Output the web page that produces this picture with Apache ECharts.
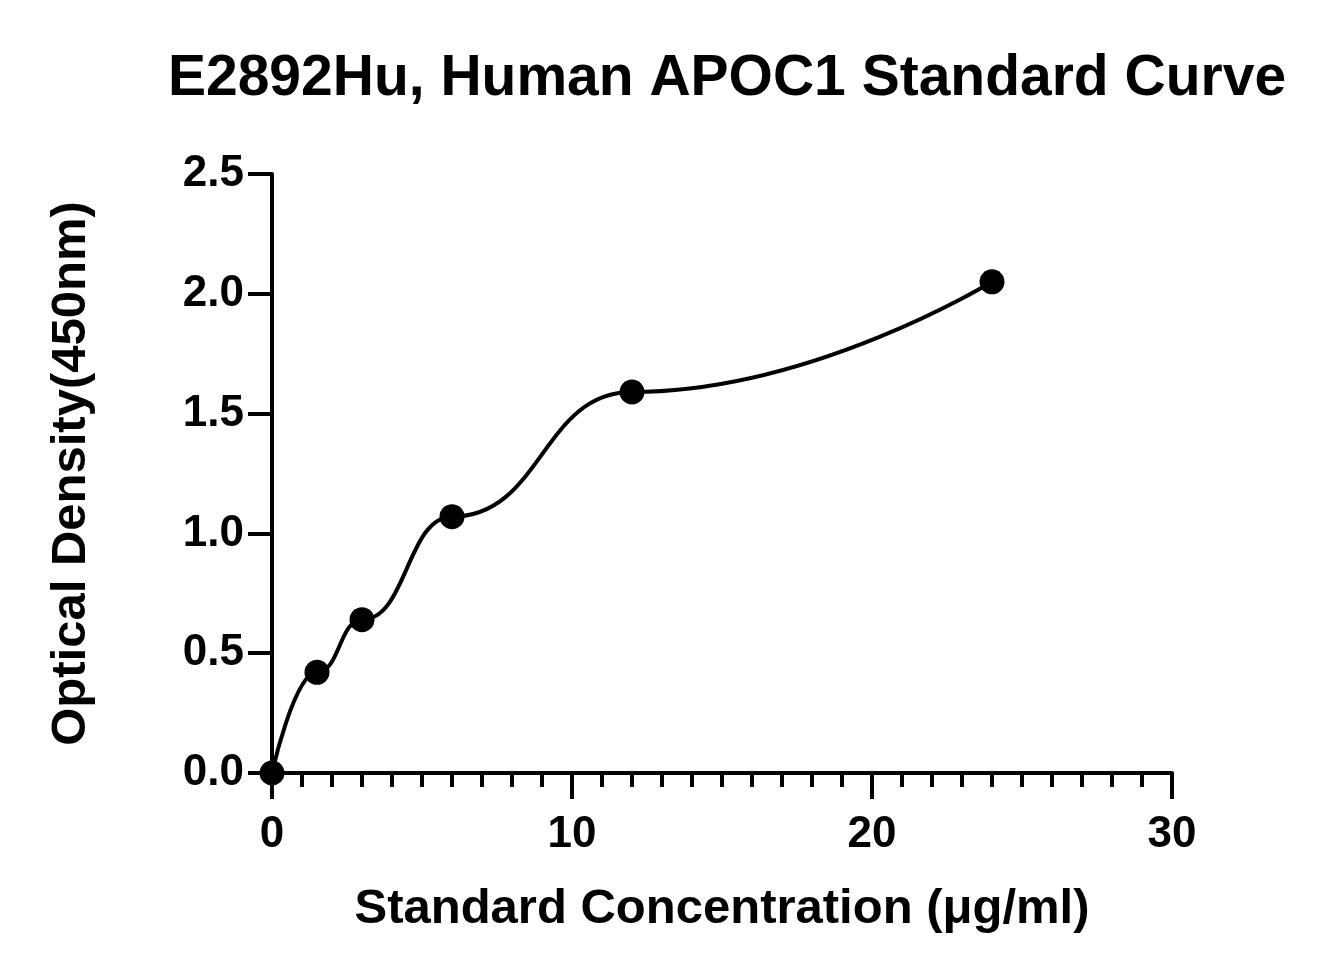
<!DOCTYPE html>
<html>
<head>
<meta charset="utf-8">
<script src="https://cdn.jsdelivr.net/npm/echarts@6/dist/echarts.min.js"></script>
<style>html,body{margin:0;padding:0;background:#fff}#chart{width:1332px;height:975px}</style>
</head>
<body>
<div id="chart"></div>
<script>
// standard points
const concentrations = [0, 1.5, 3, 6, 12, 24];
const densities = [0, 0.42, 0.64, 1.07, 1.59, 2.05];

const font = '"Liberation Sans", Arial, sans-serif';
const points = concentrations.map((c, i) => [c, densities[i]]);

const chart = echarts.init(document.getElementById('chart'));
chart.setOption({
  animation: false,
  title: {
    text: 'E2892Hu, Human APOC1 Standard Curve',
    left: 722,
    top: 46,
    textAlign: 'center',
    textStyle: { fontFamily: font, fontWeight: 'bold', fontSize: 57, color: '#000' },
  },
  grid: { left: 272, top: 174, right: 160, bottom: 202 },
  xAxis: {
    type: 'value',
    min: 0,
    max: 30,
    interval: 10,
    name: 'Standard Concentration (μg/ml)',
    nameLocation: 'middle',
    nameGap: 112,
    nameTextStyle: { fontFamily: font, fontWeight: 'bold', fontSize: 49, color: '#000' },
    axisLine: { lineStyle: { color: '#000', width: 4 } },
    axisTick: { length: 26, lineStyle: { color: '#000', width: 4 } },
    minorTick: { show: true, splitNumber: 10, length: 14, lineStyle: { color: '#000', width: 4 } },
    axisLabel: { fontFamily: font, fontWeight: 'bold', fontSize: 44, color: '#000', margin: 40 },
    splitLine: { show: false },
  },
  yAxis: {
    type: 'value',
    min: 0,
    max: 2.5,
    interval: 0.5,
    name: 'Optical Density(450nm)',
    nameLocation: 'middle',
    nameGap: 176,
    nameTextStyle: { fontFamily: font, fontWeight: 'bold', fontSize: 49, color: '#000' },
    axisLine: { show: true, lineStyle: { color: '#000', width: 4 } },
    axisTick: { show: true, length: 24, lineStyle: { color: '#000', width: 4 } },
    axisLabel: {
      fontFamily: font, fontWeight: 'bold', fontSize: 44, color: '#000', margin: 28,
      formatter: v => v.toFixed(1),
    },
    splitLine: { show: false },
  },
  series: [
    {
      type: 'line',
      data: points,
      smooth: true,
      smoothMonotone: 'x',
      symbol: 'circle',
      symbolSize: 25,
      itemStyle: { color: '#000' },
      lineStyle: { color: '#000', width: 4 },
    },
  ],
});
</script>
</body>
</html>
